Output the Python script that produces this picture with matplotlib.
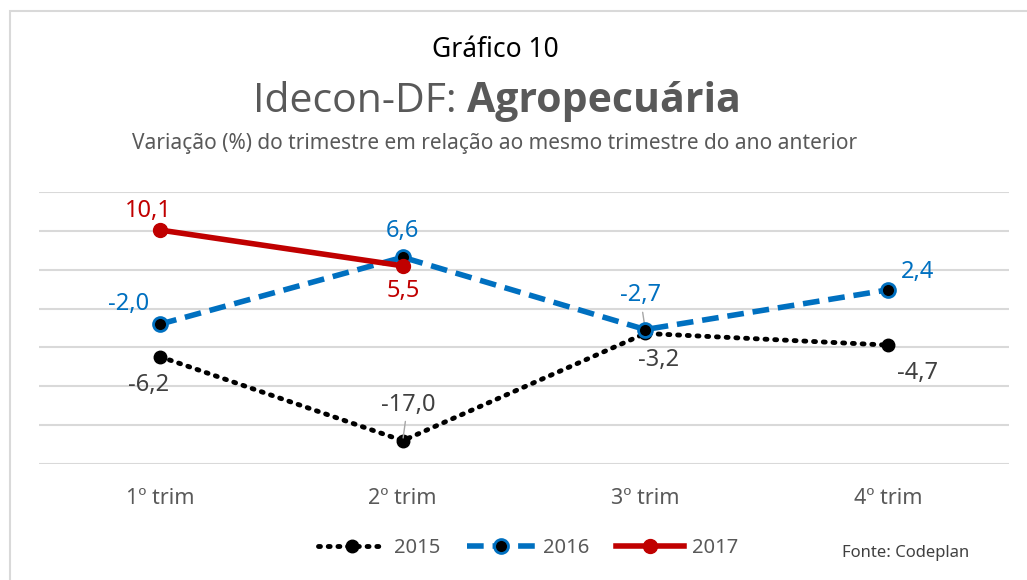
import matplotlib
matplotlib.use("Agg")
import matplotlib.pyplot as plt
from matplotlib.patches import Rectangle

# ── data ──────────────────────────────────────────────────────────────────────
quarters = ["1º trim", "2º trim", "3º trim", "4º trim"]
v2015 = [-6.2, -17.0, -3.2, -4.7]
v2016 = [-2.0, 6.6, -2.7, 2.4]
v2017 = [10.1, 5.5]

# label offsets in pixels (dx, dy)
off2015 = [(-12, -28), (5, 36), (13, -27), (30, -28)]
off2016 = [(-32, 20), (0, 26), (-5, 35), (30, 18)]
off2017 = [(-12, 19), (0, -25)]

plt.rcParams["font.family"] = ["Noto Sans", "DejaVu Sans"]

GRAY = "#595959"
BLUE = "#0070C0"
RED = "#C00000"

fig = plt.figure(figsize=(10.27, 5.8), dpi=100)
fig.patches.append(Rectangle((10 / 1027, -0.01), 1.05, 1 - 11 / 580 + 0.01,
                             transform=fig.transFigure, fill=False,
                             edgecolor="#d9d9d9", lw=1.5))

ax = fig.add_axes([39 / 1027, 0.2, 970 / 1027, 0.469])
x = list(range(len(quarters)))

ax.plot(x, v2015, color="black", ls=(0, (0.4, 1.6)), lw=3.5, dash_capstyle="round",
        marker="o", ms=9, mfc="black", mec="black", label="2015", zorder=3)
ax.plot(x, v2016, color=BLUE, ls=(0, (3, 1.6)), lw=4, marker="o", ms=10,
        mfc="black", mec=BLUE, mew=2, label="2016", zorder=4)
ax.plot(x[:len(v2017)], v2017, color=RED, lw=4, marker="o", ms=10,
        mfc=RED, mec=RED, label="2017", zorder=5)

def fmt(v):
    return f"{v:.1f}".replace(".", ",")

for vals, offs, col in [(v2015, off2015, "#404040"), (v2016, off2016, BLUE),
                        (v2017, off2017, RED)]:
    for i, (v, (dx, dy)) in enumerate(zip(vals, offs)):
        ax.annotate(fmt(v), (i, v), xytext=(dx, dy), textcoords="offset pixels",
                    ha="center", va="center", fontsize=17, color=col)

# leader lines
ax.annotate("", (1, -17.0), xytext=(3, 22), textcoords="offset pixels",
            arrowprops=dict(arrowstyle="-", color="#a6a6a6", lw=1))
ax.annotate("", (2, -2.7), xytext=(-3, 20), textcoords="offset pixels",
            arrowprops=dict(arrowstyle="-", color="#a6a6a6", lw=1))

ax.set_xlim(-0.5, 3.5)
ax.set_ylim(-20, 15)
ax.set_yticks(range(-20, 16, 5))
ax.set_yticklabels([])
ax.set_xticks(x)
ax.set_xticklabels(quarters, fontsize=15.5, color=GRAY)
ax.tick_params(length=0, pad=17)
ax.grid(axis="y", color="#d9d9d9", lw=1.5)
ax.set_axisbelow(True)
for s in ax.spines.values():
    s.set_visible(False)

# titles
fig.text(495 / 1027, 1 - 50 / 580, "Gráfico 10", ha="center", va="center",
         fontsize=19, color="black")

# main title: regular + bold part, centred together
ty = 1 - 102 / 580
t1 = fig.text(0, ty, "Idecon-DF: ", ha="left", va="center", fontsize=29.5,
              color=GRAY, family="Open Sans")
t2 = fig.text(0, ty, "Agropecuária", ha="left", va="center", fontsize=29.5,
              color=GRAY, family="Open Sans", fontweight="bold")
r = fig.canvas.get_renderer()
w1 = t1.get_window_extent(r).width
w2 = t2.get_window_extent(r).width
x0 = 497 - (w1 + w2) / 2
t1.set_x(x0 / 1027)
t2.set_x((x0 + w1) / 1027)

fig.text(495 / 1027, 1 - 143 / 580,
         "Variação (%) do trimestre em relação ao mesmo trimestre do ano anterior",
         ha="center", va="center", fontsize=15, color=GRAY)

fig.legend(loc="center", bbox_to_anchor=(528 / 1027, 1 - 548 / 580), ncol=3,
           frameon=False, fontsize=14.5, labelcolor=GRAY, handlelength=3.4,
           columnspacing=1.3, handletextpad=0.4)
fig.text(906 / 1027, 1 - 553 / 580, "Fonte: Codeplan", ha="center", va="center",
         fontsize=12, color="#404040")

fig.savefig("out.png", dpi=100)
